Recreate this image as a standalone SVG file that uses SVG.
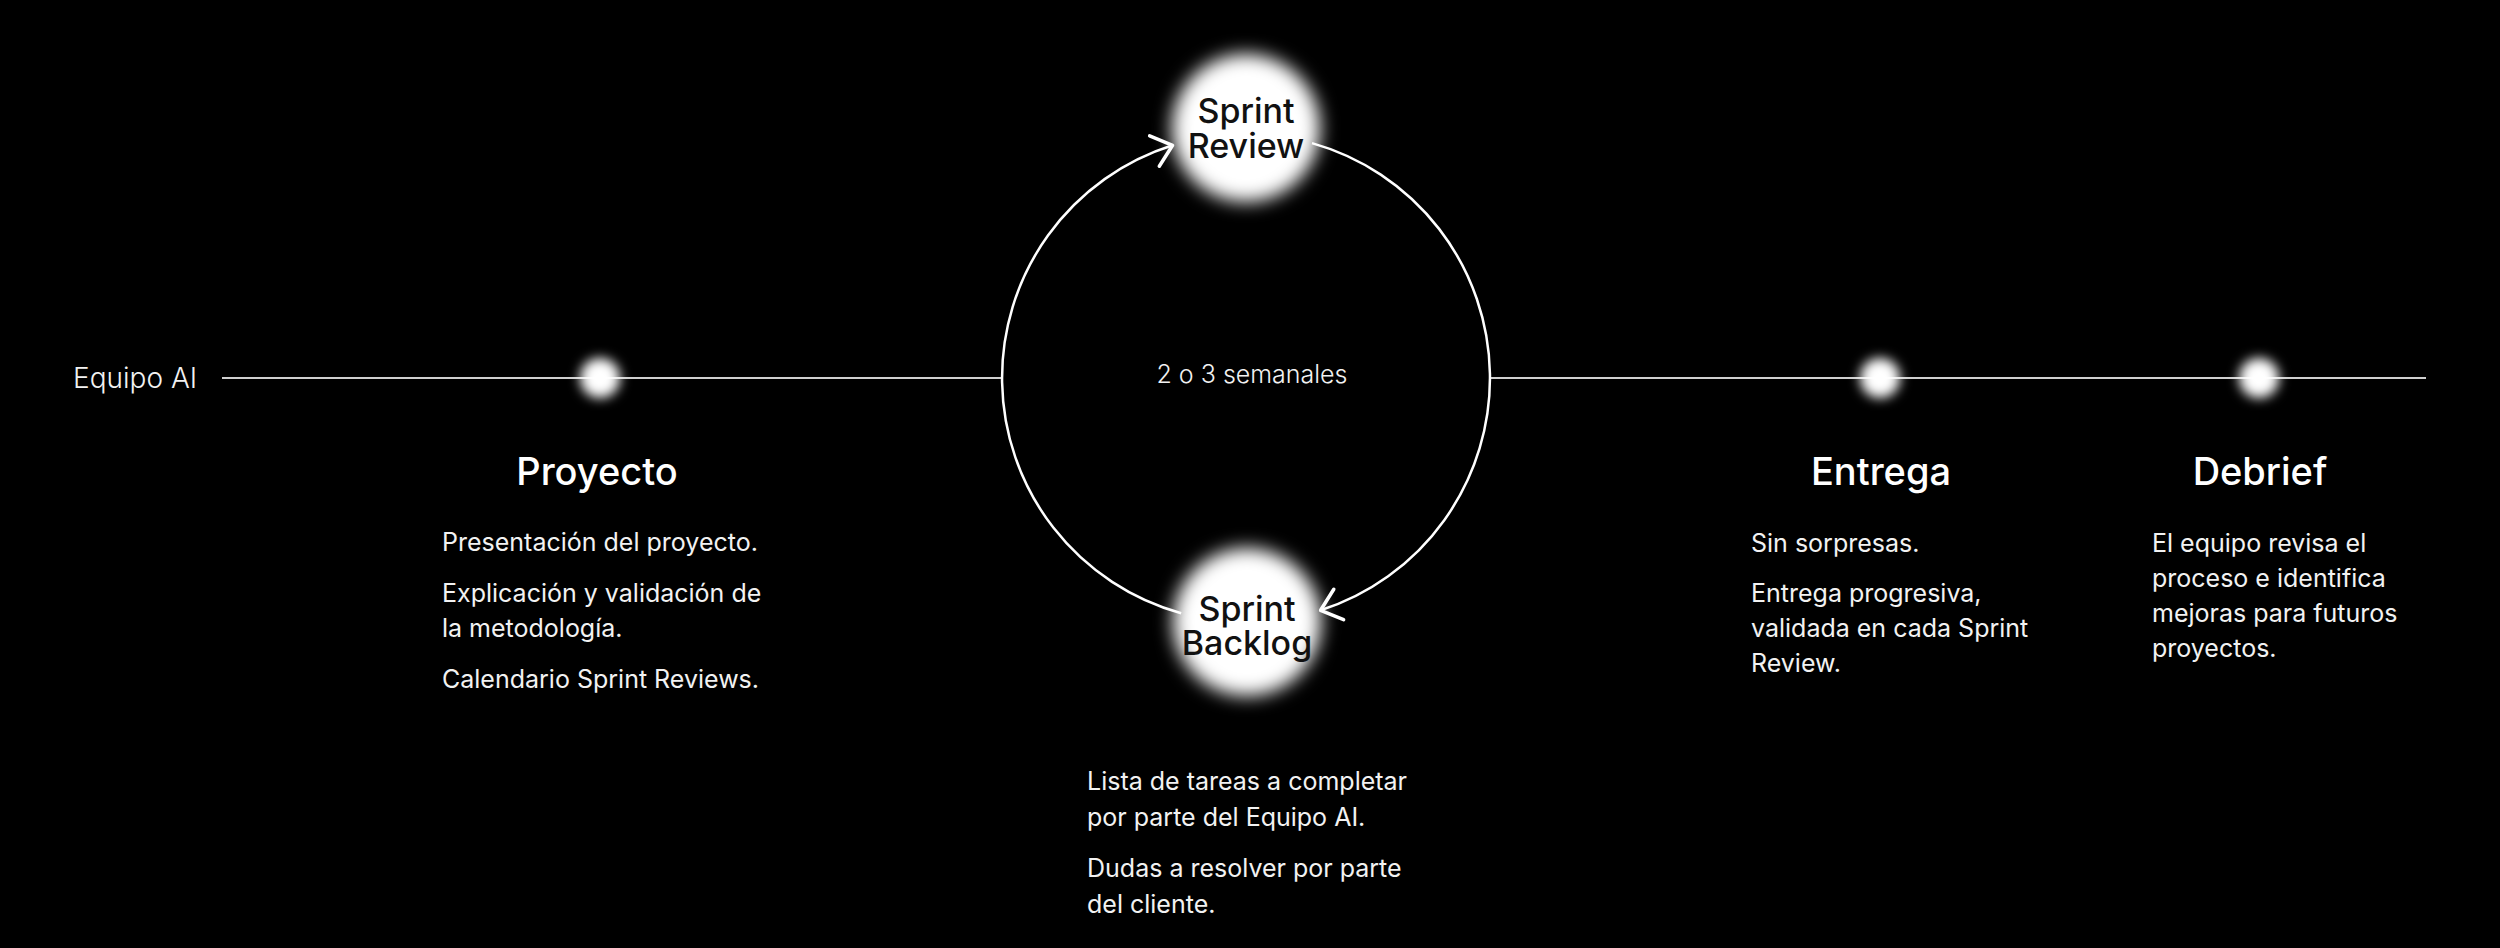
<svg xmlns="http://www.w3.org/2000/svg" width="2500" height="948" viewBox="0 0 2500 948">
<defs>
<filter id="glowBig" x="-50%" y="-50%" width="200%" height="200%"><feGaussianBlur stdDeviation="9"/></filter>
<filter id="glowSmall" x="-100%" y="-100%" width="300%" height="300%"><feGaussianBlur stdDeviation="6"/></filter>
<marker id="chev" markerUnits="userSpaceOnUse" markerWidth="60" markerHeight="60" refX="0" refY="0" orient="auto" overflow="visible">
<path d="M -19 -16 L 0 0 L -19 16" fill="none" stroke="#fff" stroke-width="3.5" stroke-linecap="round" stroke-linejoin="round"/>
</marker>
<style>
text{font-family:Inter,"Liberation Sans",sans-serif;fill:#f2f2f2}
.title{font-size:38px;font-weight:500;text-anchor:middle;fill:#fff}
.body{font-size:25px;font-weight:400}
.node{font-size:34px;font-weight:500;text-anchor:middle;fill:#111}
.axis{stroke:#cfcfcf;stroke-width:2;fill:none}
.arc{stroke:#fff;stroke-width:2.5;fill:none}
</style>
</defs>
<rect width="2500" height="948" fill="#000"/>
<g id="connectors">
<line class="axis" x1="222" y1="378" x2="1002" y2="378"/>
<line class="axis" x1="1490" y1="378" x2="2426" y2="378"/>
<path class="arc" d="M 1181.2 613.2 A 244 244 0 0 1 1172.6 145.3" marker-end="url(#chev)"/>
<path class="arc" d="M 1312 143.1 A 244 244 0 0 1 1320.6 610.3" marker-end="url(#chev)"/>
</g>
<g id="equipo-label"><text x="73" y="388" style="font-size:28px;font-weight:300">Equipo AI</text></g>
<g id="cycle-label"><text x="1252" y="383" class="body" style="text-anchor:middle;font-weight:300">2 o 3 semanales</text></g>
<g id="proyecto">
<circle cx="600" cy="378" r="20" fill="#fff" filter="url(#glowSmall)"/>
<text class="title" x="597" y="485">Proyecto</text>
<text class="body" x="442" y="551">Presentación del proyecto.</text>
<text class="body" x="442" y="602">Explicación y validación de</text>
<text class="body" x="442" y="637">la metodología.</text>
<text class="body" x="442" y="688">Calendario Sprint Reviews.</text>
</g>
<g id="sprint-review">
<circle cx="1246" cy="128" r="74" fill="#fff" filter="url(#glowBig)"/>
<text class="node" x="1246" y="123">Sprint</text>
<text class="node" x="1246" y="158">Review</text>
</g>
<g id="sprint-backlog">
<circle cx="1247" cy="622" r="74" fill="#fff" filter="url(#glowBig)"/>
<text class="node" x="1247" y="621">Sprint</text>
<text class="node" x="1247" y="655">Backlog</text>
<text class="body" x="1087" y="790">Lista de tareas a completar</text>
<text class="body" x="1087" y="826">por parte del Equipo AI.</text>
<text class="body" x="1087" y="877">Dudas a resolver por parte</text>
<text class="body" x="1087" y="913">del cliente.</text>
</g>
<g id="entrega">
<circle cx="1880" cy="378" r="20" fill="#fff" filter="url(#glowSmall)"/>
<text class="title" x="1881" y="485">Entrega</text>
<text class="body" x="1751" y="552">Sin sorpresas.</text>
<text class="body" x="1751" y="602">Entrega progresiva,</text>
<text class="body" x="1751" y="637">validada en cada Sprint</text>
<text class="body" x="1751" y="672">Review.</text>
</g>
<g id="debrief">
<circle cx="2259" cy="378" r="20" fill="#fff" filter="url(#glowSmall)"/>
<text class="title" x="2260" y="485">Debrief</text>
<text class="body" x="2152" y="552">El equipo revisa el</text>
<text class="body" x="2152" y="587">proceso e identifica</text>
<text class="body" x="2152" y="622">mejoras para futuros</text>
<text class="body" x="2152" y="657">proyectos.</text>
</g>
</svg>
